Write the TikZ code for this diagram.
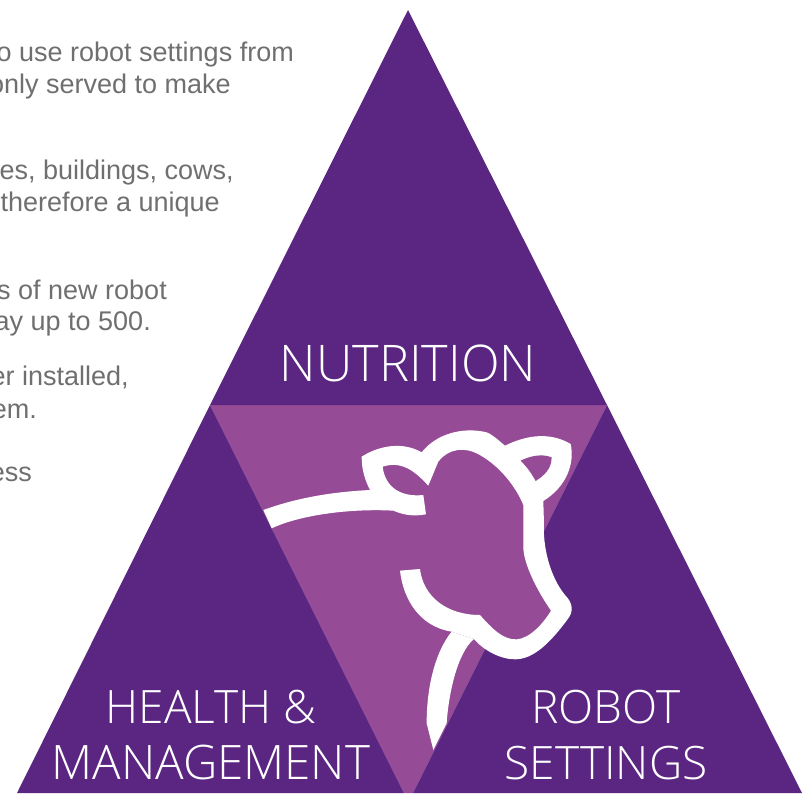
\documentclass[tikz,border=0pt]{standalone}
\usepackage{fontspec}
\setmainfont{Liberation Sans}
\newfontfamily\labelfont{Open Sans Light}
\usetikzlibrary{positioning}
\definecolor{darkpurple}{HTML}{5B2681}
\definecolor{lightpurple}{HTML}{964B96}
\definecolor{bodygray}{HTML}{6F6F6F}
\tikzset{
  bodyline/.style={anchor=base east,inner sep=0pt,text=bodygray,font=\fontsize{27}{27}\selectfont},
  biglabel/.style={anchor=base,inner sep=0pt,text=white,font=\labelfont\fontsize{46}{46}\selectfont}
}
\begin{document}
\begin{tikzpicture}[x=1pt,y=-1pt]
\useasboundingbox (0,0) rectangle (810,793);

\coordinate (apex) at (408,10);
\coordinate (midl) at (210,405);
\coordinate (midr) at (607,405);
\coordinate (botl) at (17,793);
\coordinate (botml) at (404,793);
\coordinate (botmr) at (413,793);
\coordinate (botr) at (802,793);

\fill[lightpurple] (midl) -- (midr) -- (botmr) -- (botml) -- cycle;
\fill[darkpurple] (apex) -- (midl) -- (midr) -- cycle;
\fill[darkpurple] (midl) -- (botl) -- (botml) -- cycle;
\fill[darkpurple] (midr) -- (botmr) -- (botr) -- cycle;

\foreach \i/\x/\y/\t in {0/294/61/{o use robot settings from},1/231/93/{only served to make},
  2/234/179/{es, buildings, cows,},3/220/211/{therefore a unique},
  4/167/299/{s of new robot},5/151/330/{ay up to 500.},
  6/129/385/{er installed,},7/37/418/{em.},8/32/481/{ess}} {
\node[bodyline] (line\i) at (\x,\y) {\t};
}

\node[biglabel,font=\labelfont\fontsize{50.5}{50.5}\selectfont] (nutrition) at (408,381) {NUTRITION};
\node[biglabel] (health) at (211,723) {HEALTH \&};
\node[biglabel,font=\labelfont\fontsize{47.5}{47.5}\selectfont] (management) at (211,779) {MANAGEMENT};
\node[biglabel] (robot) at (606,723) {ROBOT};
\node[biglabel] (settings) at (606,779) {SETTINGS};

% cow, in its own small units
\begin{scope}[shift={(250,420)},x=0.3333pt,y=-0.3333pt]
\fill[lightpurple] (510,447) .. controls (520,530) and (590,585) .. (690,585)
  .. controls (725,625) and (760,660) .. (800,658)
  .. controls (840,655) and (880,610) .. (903,572)
  .. controls (860,510) and (820,430) .. (820,380) -- (820,255)
  .. controls (800,205) and (750,135) .. (680,100)
  .. controls (650,85) and (600,80) .. (565,125) -- (535,197) -- cycle;
% head and back
\fill[white] (335,110) .. controls (390,75) and (460,65) .. (515,97)
  .. controls (560,40) and (640,20) .. (710,37)
  .. controls (730,45) and (750,65) .. (765,77)
  .. controls (830,45) and (900,35) .. (962,72)
  .. controls (975,130) and (950,200) .. (880,243) -- (882,310)
  .. controls (878,380) and (900,470) .. (945,525)
  .. controls (970,550) and (970,575) .. (955,595)
  .. controls (900,670) and (850,718) .. (795,718)
  .. controls (750,718) and (700,690) .. (672,657)
  -- (605,635)
  .. controls (510,620) and (460,540) .. (450,452) -- (510,447)
  .. controls (520,530) and (590,585) .. (690,585)
  .. controls (725,625) and (760,660) .. (800,658)
  .. controls (840,655) and (880,610) .. (903,572)
  .. controls (860,510) and (820,430) .. (820,380) -- (820,255)
  .. controls (800,205) and (750,135) .. (680,100)
  .. controls (650,85) and (600,80) .. (565,125) -- (535,197)
  .. controls (500,160) and (460,120) .. (398,140)
  .. controls (405,200) and (450,232) .. (520,225) -- (528,283)
  .. controls (490,290) and (460,285) .. (430,272)
  .. controls (300,265) and (150,285) .. (65,325) -- (40,270)
  .. controls (150,230) and (260,215) .. (360,210)
  .. controls (345,180) and (335,150) .. (335,110) -- cycle;
% neck
\fill[white] (605,635) .. controls (560,690) and (530,790) .. (530,910)
  -- (550,990) -- (590,910)
  .. controls (595,830) and (620,700) .. (672,657) -- cycle;
% right ear
\fill[lightpurple] (812,122) .. controls (840,108) and (875,100) .. (905,112)
  .. controls (905,145) and (885,165) .. (857,183)
  .. controls (845,160) and (830,140) .. (812,122) -- cycle;
\end{scope}
\end{tikzpicture}
\end{document}
